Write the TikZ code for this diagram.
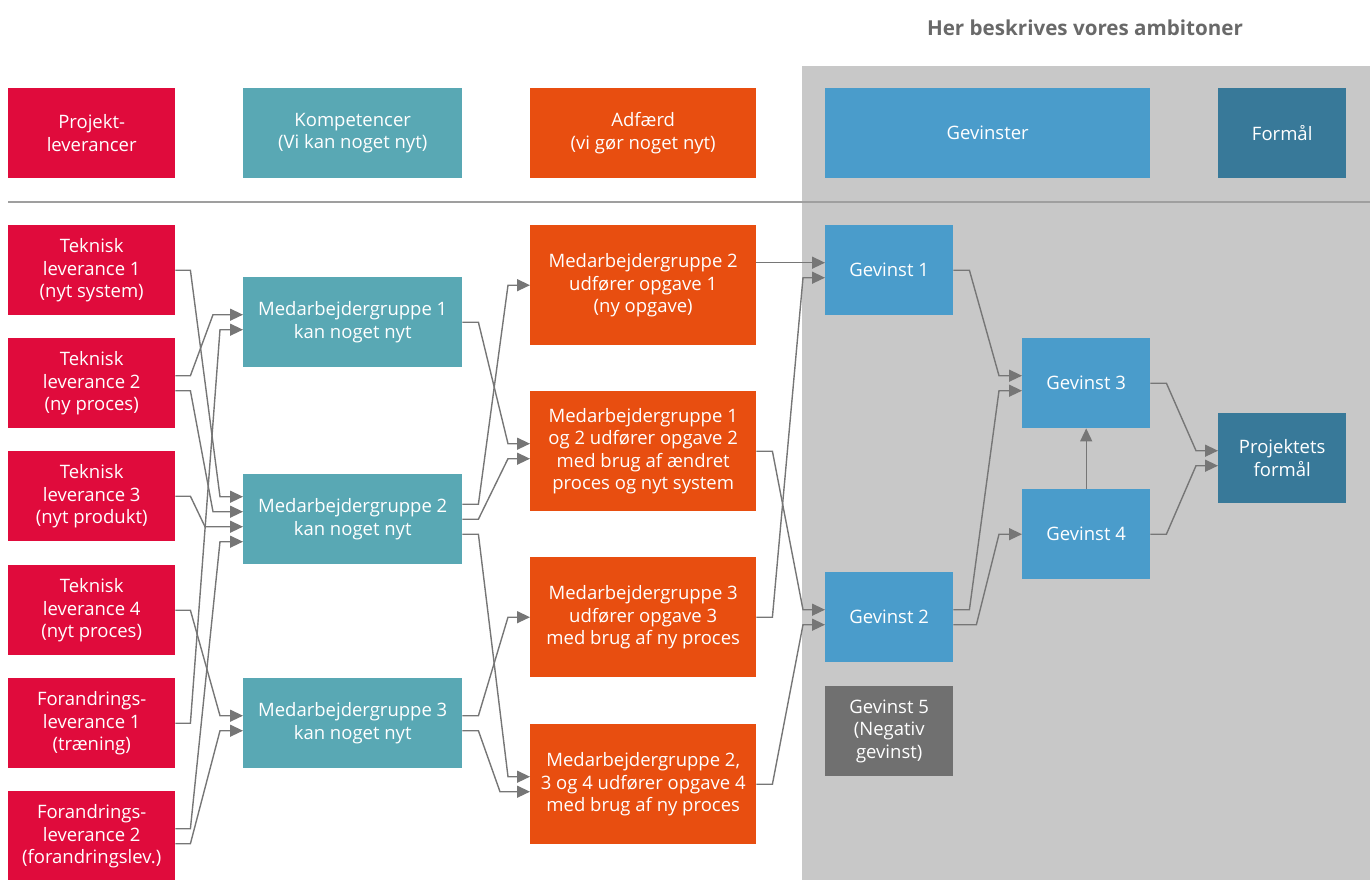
\documentclass[tikz,border=0pt]{standalone}
\usepackage{fontspec}
\setmainfont{Open Sans}
\usetikzlibrary{arrows.meta}
\definecolor{levred}{RGB}{224,11,60}
\definecolor{komteal}{RGB}{89,168,180}
\definecolor{adforange}{RGB}{232,78,16}
\definecolor{gevblue}{RGB}{74,156,203}
\definecolor{formteal}{RGB}{56,121,153}
\definecolor{neggray}{RGB}{112,112,112}
\definecolor{ambgray}{RGB}{200,200,200}
\definecolor{linkgray}{RGB}{118,118,118}
\definecolor{titlegray}{RGB}{105,105,105}

\begin{document}
\begin{tikzpicture}[x=1pt,y=-1pt,
  box/.style={anchor=north west,inner sep=0pt,align=center,text=white,
    font=\fontsize{18.5}{22.5}\selectfont},
  levbox/.style={box,fill=levred,minimum width=167pt,minimum height=90pt},
  kombox/.style={box,fill=komteal,minimum width=219pt,minimum height=90pt},
  adfbox/.style={box,fill=adforange,minimum width=226pt,minimum height=120pt},
  gevbox/.style={box,fill=gevblue,minimum width=128pt,minimum height=90pt},
  link/.style={draw=linkgray,line width=1.4pt,-{Triangle[length=13pt,width=12pt]}}]
\useasboundingbox (0,0) rectangle (1370,880);
% ambition area
\fill[ambgray] (802,66) rectangle (1370,880);
\node[font=\bfseries\fontsize{20.6}{24}\selectfont,text=titlegray] (title) at (1085,28) {Her beskrives vores ambitoner};
\draw[gray!75,line width=1.2pt] (8,202) -- (1370,202);
% header row
\node[levbox] (hlev) at (8,88) {Projekt-\\leverancer};
\node[kombox] (hkom) at (243,88) {Kompetencer\\(Vi kan noget nyt)};
\node[adfbox,minimum height=90pt] (hadf) at (530,88) {Adfærd\\(vi gør noget nyt)};
\node[gevbox,minimum width=325pt] (hgev) at (825,88) {Gevinster};
\node[gevbox,fill=formteal] (hform) at (1218,88) {Formål};
% leverancer
\node[levbox] (t1) at (8,225) {Teknisk\\leverance 1\\(nyt system)};
\node[levbox] (t2) at (8,338) {Teknisk\\leverance 2\\(ny proces)};
\node[levbox] (t3) at (8,451) {Teknisk\\leverance 3\\(nyt produkt)};
\node[levbox] (t4) at (8,565) {Teknisk\\leverance 4\\(nyt proces)};
\node[levbox] (f1) at (8,678) {Forandrings-\\leverance 1\\(træning)};
\node[levbox] (f2) at (8,791) {Forandrings-\\leverance 2\\(forandringslev.)};
% kompetencer
\node[kombox] (m1) at (243,277) {Medarbejdergruppe 1\\kan noget nyt};
\node[kombox] (m2) at (243,474) {Medarbejdergruppe 2\\kan noget nyt};
\node[kombox] (m3) at (243,678) {Medarbejdergruppe 3\\kan noget nyt};
% adfaerd
\node[adfbox] (a1) at (530,225) {Medarbejdergruppe 2\\udfører opgave 1\\(ny opgave)};
\node[adfbox] (a2) at (530,391) {Medarbejdergruppe 1\\og 2 udfører opgave 2\\med brug af ændret\\proces og nyt system};
\node[adfbox] (a3) at (530,557) {Medarbejdergruppe 3\\udfører opgave 3\\med brug af ny proces};
\node[adfbox] (a4) at (530,724) {Medarbejdergruppe 2,\\3 og 4 udfører opgave 4\\med brug af ny proces};
% gevinster
\node[gevbox] (g1) at (825,225) {Gevinst 1};
\node[gevbox] (g2) at (825,572) {Gevinst 2};
\node[gevbox,fill=neggray] (g5) at (825,686) {Gevinst 5\\(Negativ\\gevinst)};
\node[gevbox] (g3) at (1022,338) {Gevinst 3};
\node[gevbox] (g4) at (1022,489) {Gevinst 4};
\node[gevbox,fill=formteal] (pf) at (1218,413) {Projektets\\formål};
% leverancer -> kompetencer
\draw[link] (t1.east) -- ++(15,0) -- ([xshift=-23pt,yshift=22.5pt]m2.west) -- ([yshift=22.5pt]m2.west);
\draw[link] ([yshift=7.5pt]t2.east) -- ++(15,0) -- ([xshift=-30pt,yshift=7.5pt]m1.west) -- ([yshift=7.5pt]m1.west);
\draw[link] ([yshift=-7.5pt]t2.east) -- ++(15,0) -- ([xshift=-30pt,yshift=7.5pt]m2.west) -- ([yshift=7.5pt]m2.west);
\draw[link] (t3.east) -- ++(15,0) -- ([xshift=-38pt,yshift=-7.5pt]m2.west) -- ([yshift=-7.5pt]m2.west);
\draw[link] (t4.east) -- ++(15,0) -- ([xshift=-23pt,yshift=7.5pt]m3.west) -- ([yshift=7.5pt]m3.west);
\draw[link] (f1.east) -- ++(15,0) -- ([xshift=-23pt,yshift=-7.5pt]m1.west) -- ([yshift=-7.5pt]m1.west);
\draw[link] ([yshift=7.5pt]f2.east) -- ++(15,0) -- ([xshift=-23pt,yshift=-22.5pt]m2.west) -- ([yshift=-22.5pt]m2.west);
\draw[link] ([yshift=-7.5pt]f2.east) -- ++(15,0) -- ([xshift=-23pt,yshift=-7.5pt]m3.west) -- ([yshift=-7.5pt]m3.west);
% kompetencer -> adfaerd
\draw[link] (m1.east) -- ++(16,0) -- ([xshift=-22pt,yshift=7.5pt]a2.west) -- ([yshift=7.5pt]a2.west);
\draw[link] ([yshift=15pt]m2.east) -- ++(16,0) -- ([xshift=-22pt]a1.west) -- (a1.west);
\draw[link] (m2.east) -- ++(16,0) -- ([xshift=-22pt,yshift=-7.5pt]a2.west) -- ([yshift=-7.5pt]a2.west);
\draw[link] ([yshift=-15pt]m2.east) -- ++(16,0) -- ([xshift=-22pt,yshift=7.5pt]a4.west) -- ([yshift=7.5pt]a4.west);
\draw[link] ([yshift=7.5pt]m3.east) -- ++(16,0) -- ([xshift=-22pt]a3.west) -- (a3.west);
\draw[link] ([yshift=-7.5pt]m3.east) -- ++(16,0) -- ([xshift=-30pt,yshift=-7.5pt]a4.west) -- ([yshift=-7.5pt]a4.west);
% adfaerd -> gevinster
\draw[link] ([yshift=7.5pt]g1.west -| a1.east) -- ([yshift=7.5pt]g1.west);
\draw[link] (a2.east) -- ++(16,0) -- ([xshift=-22pt,yshift=7.5pt]g2.west) -- ([yshift=7.5pt]g2.west);
\draw[link] (a3.east) -- ++(16,0) -- ([xshift=-22pt,yshift=-7.5pt]g1.west) -- ([yshift=-7.5pt]g1.west);
\draw[link] (a4.east) -- ++(16,0) -- ([xshift=-22pt,yshift=-7.5pt]g2.west) -- ([yshift=-7.5pt]g2.west);
% gevinster -> formaal
\draw[link] (g1.east) -- ++(16,0) -- ([xshift=-23pt,yshift=7.5pt]g3.west) -- ([yshift=7.5pt]g3.west);
\draw[link] ([yshift=7.5pt]g2.east) -- ++(16,0) -- ([xshift=-23pt,yshift=-7.5pt]g3.west) -- ([yshift=-7.5pt]g3.west);
\draw[link] ([yshift=-7.5pt]g2.east) -- ++(23,0) -- ([xshift=-23pt]g4.west) -- (g4.west);
\draw[link] (g4.north) -- (g3.south);
\draw[link] (g3.east) -- ++(16,0) -- ([xshift=-22pt,yshift=7.5pt]pf.west) -- ([yshift=7.5pt]pf.west);
\draw[link] (g4.east) -- ++(16,0) -- ([xshift=-22pt,yshift=-7.5pt]pf.west) -- ([yshift=-7.5pt]pf.west);
\end{tikzpicture}
\end{document}
